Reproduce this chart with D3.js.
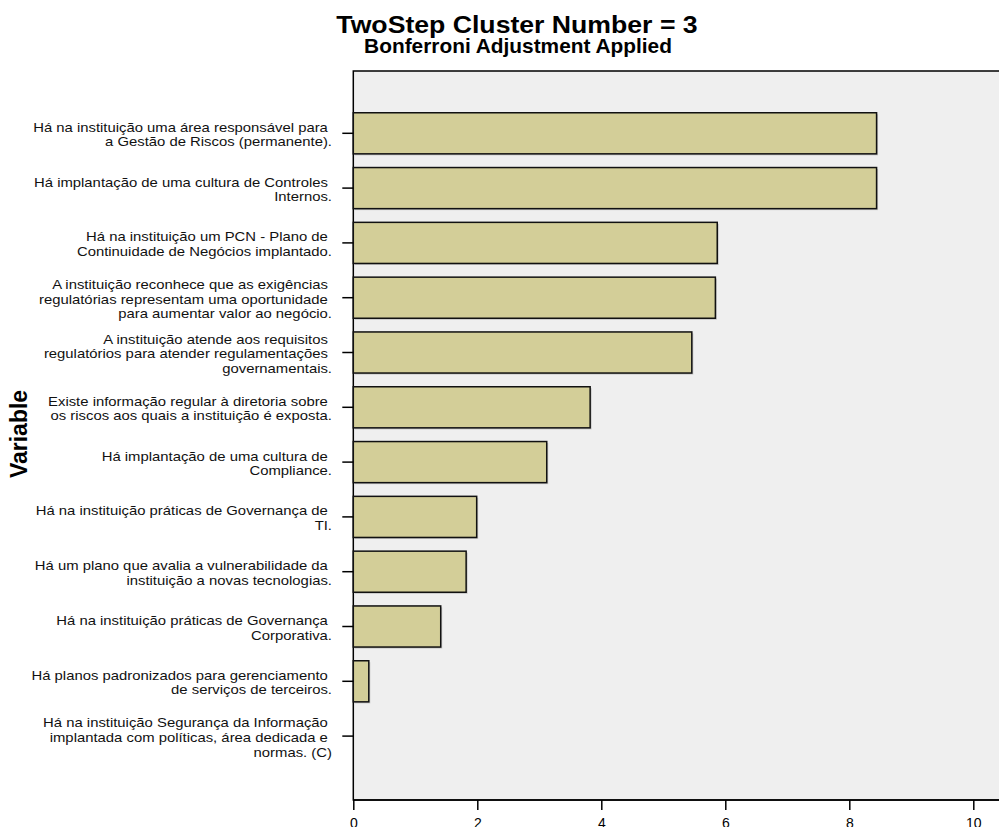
<!DOCTYPE html>
<html>
<head>
<meta charset="utf-8">
<script src="https://cdn.jsdelivr.net/npm/d3@7"></script>
<style>
  body { margin: 0; background: #fff; overflow: hidden; }
  text { font-family: "Liberation Sans", Arial, sans-serif; }
</style>
</head>
<body>
<div id="chart"></div>
<script>
// variable labels, "|" marks the line breaks as shown in the chart
var variables = [
    "Há na instituição uma área responsável para |a Gestão de Riscos (permanente).",
    "Há implantação de uma cultura de Controles |Internos.",
    "Há na instituição um PCN - Plano de |Continuidade de Negócios implantado.",
    "A instituição reconhece que as exigências |regulatórias representam uma oportunidade |para aumentar valor ao negócio.",
    "A instituição atende aos requisitos |regulatórios para atender regulamentações |governamentais.",
    "Existe informação regular à diretoria sobre |os riscos aos quais a instituição é exposta.",
    "Há implantação de uma cultura de |Compliance.",
    "Há na instituição práticas de Governança de |TI.",
    "Há um plano que avalia a vulnerabilidade da |instituição a novas tecnologias.",
    "Há na instituição práticas de Governança |Corporativa.",
    "Há planos padronizados para gerenciamento |de serviços de terceiros.",
    "Há na instituição Segurança da Informação |implantada com políticas, área dedicada e |normas. (C)"
];
var values = [8.44, 8.44, 5.87, 5.84, 5.46, 3.82, 3.12, 1.99, 1.82, 1.41, 0.25, 0];
var xTicks = [0, 2, 4, 6, 8, 10];

var title = "TwoStep Cluster Number = 3";
var subtitle = "Bonferroni Adjustment Applied";

var W = 999, H = 827;
var plotLeft = 353.3, plotTop = 71, plotBottom = 800;

var svg = d3.select("#chart")
    .append("svg")
        .attr("width", W)
        .attr("height", H);

var xScale = d3.scaleLinear()
    .domain([0, 10])
    .range([plotLeft, 973.3]);

var yScale = d3.scaleBand()
    .domain(d3.range(variables.length))
    .range([105.9, 763.5])
    .paddingInner(0.25)
    .paddingOuter(0.125);

// plot background
svg.append("rect")
    .attr("x", plotLeft)
    .attr("y", plotTop)
    .attr("width", W + 20 - plotLeft)
    .attr("height", plotBottom - plotTop)
    .attr("fill", "#efefef")
    .attr("stroke", "#000")
    .attr("stroke-width", 1.5);

// bar shadows
svg.selectAll()
    .data(values)
    .enter()
    .append("rect")
    .attr("x", xScale(0) + 1.5)
    .attr("y", (d, i) => yScale(i) + 1.5)
    .attr("width", d => Math.max(0, xScale(d) - xScale(0)))
    .attr("height", yScale.bandwidth())
    .attr("fill", d => d > 0 ? "#c4c4c4" : "none");

// bars
svg.selectAll()
    .data(values)
    .enter()
    .append("rect")
    .attr("x", xScale(0))
    .attr("y", (d, i) => yScale(i))
    .attr("width", d => xScale(d) - xScale(0))
    .attr("height", yScale.bandwidth())
    .attr("fill", "#d3ce98")
    .attr("stroke", d => d > 0 ? "#111" : "none")
    .attr("stroke-width", 1.5);

// x axis
var xAxis = svg.append("g")
    .attr("transform", "translate(0," + plotBottom + ")")
    .call(d3.axisBottom(xScale).tickValues(xTicks).tickSize(10).tickPadding(8).tickSizeOuter(0));
xAxis.select(".domain").attr("stroke-width", 1.5).attr("d", "M" + plotLeft + ",0H" + (W + 20));
xAxis.selectAll(".tick line").attr("stroke-width", 1.5);
xAxis.selectAll(".tick text")
    .attr("font-size", "14px")
    .attr("font-family", "Liberation Sans, Arial, sans-serif")
    .attr("fill", "#000");

// y axis ticks
svg.selectAll()
    .data(variables)
    .enter()
    .append("line")
    .attr("x1", plotLeft - 11)
    .attr("x2", plotLeft)
    .attr("y1", (d, i) => yScale(i) + yScale.bandwidth() / 2)
    .attr("y2", (d, i) => yScale(i) + yScale.bandwidth() / 2)
    .attr("stroke", "#000")
    .attr("stroke-width", 1.5);

// y labels (wrapped, right aligned)
var lineH = 14.7;
var labels = svg.selectAll()
    .data(variables)
    .enter()
    .append("g")
    .attr("transform", (d, i) => "translate(332," + (yScale(i) + yScale.bandwidth() / 2) + ") scale(1.17,1)");
labels.each(function(d) {
    var lines = d.split("|");
    var g = d3.select(this);
    lines.forEach(function(line, k) {
        g.append("text")
            .attr("x", 0)
            .attr("y", 5.8 + (k - (lines.length - 1) / 2) * lineH)
            .attr("text-anchor", "end")
            .attr("font-size", "12.7px")
            .attr("fill", "#111")
            .style("white-space", "pre")
            .text(line);
    });
});

// titles
svg.append("text")
    .attr("transform", "translate(517,33.3) scale(1.11,1)")
    .attr("text-anchor", "middle")
    .attr("font-size", "24px")
    .attr("font-weight", "bold")
    .text(title);
svg.append("text")
    .attr("transform", "translate(518,53.3) scale(1.07,1)")
    .attr("text-anchor", "middle")
    .attr("font-size", "19.5px")
    .attr("font-weight", "bold")
    .text(subtitle);

// axis title
svg.append("text")
    .attr("transform", "translate(27,434) rotate(-90)")
    .attr("text-anchor", "middle")
    .attr("font-size", "23px")
    .attr("font-weight", "bold")
    .text("Variable");
</script>
</body>
</html>
